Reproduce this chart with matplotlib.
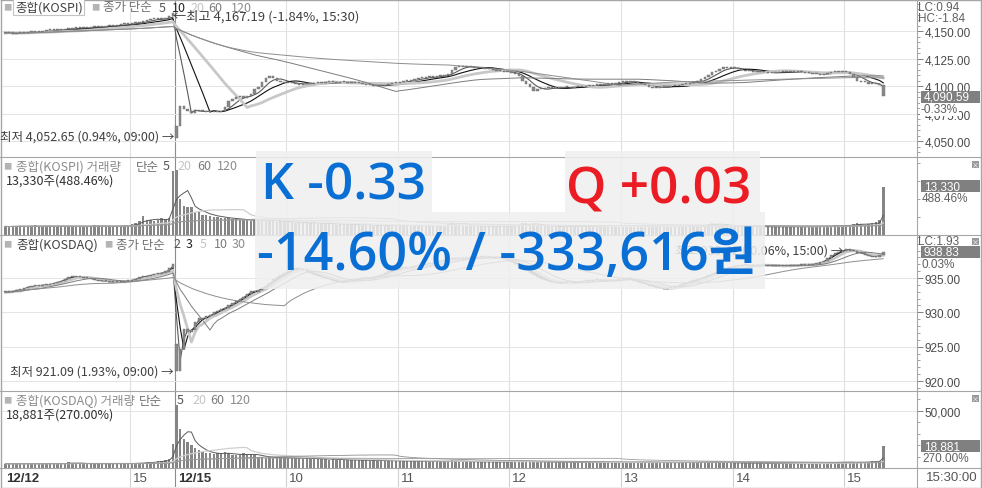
import matplotlib
matplotlib.use("Agg")
import matplotlib.pyplot as plt
from matplotlib.patches import Rectangle
from matplotlib.ticker import MultipleLocator
import numpy as np
import pandas as pd

plt.rcParams['font.family'] = ['Noto Sans CJK KR', 'DejaVu Sans']

# ---- values (2-minute bars, 12/12 tail + 12/15 session) ----
kospi_open_1212 = 4148.5
kospi_close_1212 = [
    4148.0, 4149.0, 4147.0, 4148.0, 4148.5, 4148.5, 4149.0, 4149.5, 4149.0, 4149.5,
    4150.0, 4150.5, 4150.5, 4151.0, 4151.5, 4151.0, 4152.0, 4152.0, 4152.5, 4152.5,
    4153.0, 4152.5, 4153.0, 4153.5, 4153.5, 4154.0, 4154.0, 4154.5, 4155.0, 4155.0,
    4155.5, 4156.0, 4156.0, 4156.5, 4157.0, 4157.5, 4158.0, 4159.5, 4160.0, 4160.5,
    4161.0, 4161.0, 4160.5, 4162.0, 4163.5, 4166.5]
kospi_open_1215 = 4053.0
kospi_close_1215 = [
    4063.6, 4081.8, 4079.5, 4077.0, 4075.5, 4077.0, 4078.0, 4077.5, 4076.5, 4077.0,
    4076.0, 4076.5, 4077.5, 4081.0, 4086.0, 4088.5, 4090.0, 4091.0, 4089.5, 4090.5,
    4093.0, 4097.0, 4099.5, 4103.5, 4107.5, 4109.0, 4107.0, 4104.5, 4104.0, 4103.0,
    4103.5, 4102.5, 4101.5, 4101.0, 4101.5, 4102.0, 4101.5, 4102.5, 4103.0, 4102.5,
    4103.5, 4104.0, 4103.5, 4103.0, 4104.0, 4103.5, 4103.0, 4103.5, 4102.5, 4102.5,
    4101.5, 4101.0, 4100.5, 4100.0, 4100.5, 4100.0, 4101.0, 4102.0, 4102.5, 4103.0,
    4103.5, 4104.5, 4105.5, 4105.0, 4106.5, 4107.5, 4107.0, 4108.0, 4108.5, 4108.0,
    4109.0, 4109.5, 4110.0, 4111.0, 4114.5, 4117.0, 4118.5, 4117.5, 4117.0, 4117.5,
    4116.5, 4116.5, 4116.0, 4115.5, 4115.5, 4114.5, 4114.0, 4113.5, 4113.0, 4112.5,
    4112.0, 4110.5, 4109.0, 4105.0, 4101.5, 4099.0, 4095.5, 4097.0, 4097.5, 4098.0,
    4098.0, 4098.5, 4098.0, 4098.5, 4099.0, 4099.0, 4098.5, 4099.5, 4099.0, 4099.5,
    4100.0, 4100.0, 4100.5, 4101.0, 4100.5, 4101.5, 4102.0, 4101.5, 4103.0, 4103.5,
    4104.0, 4104.5, 4104.0, 4103.5, 4102.5, 4101.5, 4100.5, 4099.5, 4098.5, 4098.0,
    4099.0, 4099.0, 4099.5, 4100.0, 4100.0, 4101.0, 4102.0, 4102.0, 4103.0, 4103.5,
    4104.5, 4106.0, 4108.0, 4110.0, 4112.5, 4114.0, 4115.5, 4117.0, 4116.5, 4116.5,
    4116.0, 4115.5, 4114.5, 4114.0, 4113.5, 4112.5, 4113.0, 4112.5, 4112.5, 4112.0,
    4112.0, 4111.5, 4112.5, 4113.0, 4112.5, 4112.5, 4113.0, 4112.5, 4112.5, 4112.0,
    4111.5, 4111.0, 4110.5, 4110.0, 4111.0, 4112.0, 4112.5, 4113.5, 4113.0, 4112.5,
    4112.5, 4111.0, 4108.5, 4105.0, 4104.0, 4103.5, 4102.0, 4101.5, 4101.5, 4101.0,
    4090.59]

kosdaq_open_1212 = 933.0
kosdaq_close_1212 = [
    932.9, 933.0, 933.1, 933.3, 933.2, 933.6, 933.7, 933.8, 933.8, 933.9,
    934.0, 934.0, 934.1, 934.3, 934.4, 934.6, 934.9, 935.1, 935.1, 935.2,
    935.1, 935.0, 935.0, 934.9, 934.7, 934.6, 934.6, 934.5, 934.4, 934.4,
    934.5, 934.4, 934.5, 934.6, 934.7, 934.9, 935.1, 935.2, 935.3, 935.4,
    935.6, 935.6, 935.8, 935.9, 936.4, 937.0]
kosdaq_open_1215 = 925.4
kosdaq_close_1215 = [
    921.5, 924.7, 927.6, 927.2, 927.4, 928.6, 929.2, 929.0, 929.4, 929.6,
    930.0, 930.2, 930.5, 930.7, 931.0, 931.3, 931.6, 932.0, 932.3, 932.7,
    933.1, 933.0, 933.3, 933.6, 933.9, 934.3, 934.8, 935.2, 935.4, 935.7,
    936.0, 936.2, 936.5, 936.3, 936.2, 935.9, 935.7, 935.5, 935.3, 935.1,
    935.0, 934.8, 934.6, 934.5, 934.4, 934.4, 934.5, 934.6, 934.7, 934.8,
    934.8, 935.0, 934.9, 935.1, 935.3, 935.4, 935.7, 936.0, 936.1, 936.2,
    936.4, 936.5, 936.5, 936.6, 936.7, 936.8, 936.9, 937.0, 937.1, 937.2,
    937.3, 937.5, 937.6, 937.7, 937.8, 937.8, 937.9, 937.8, 937.9, 938.0,
    937.9, 938.0, 938.0, 938.1, 938.0, 937.9, 938.0, 937.9, 937.7, 937.6,
    937.3, 937.1, 936.8, 936.5, 936.1, 935.8, 935.5, 935.1, 934.9, 934.7,
    934.5, 934.4, 934.3, 934.3, 934.2, 934.4, 934.4, 934.3, 934.4, 934.5,
    934.6, 934.5, 934.7, 934.7, 934.6, 934.7, 934.6, 934.7, 934.6, 934.8,
    934.9, 935.0, 934.9, 934.6, 934.4, 934.3, 934.1, 933.9, 933.8, 933.6,
    933.5, 933.4, 933.5, 933.6, 933.8, 933.9, 934.1, 934.3, 934.5, 934.6,
    934.8, 935.0, 935.2, 935.4, 935.6, 935.9, 936.1, 936.3, 936.5, 936.6,
    936.7, 936.8, 936.9, 936.9, 936.8, 936.9, 936.8, 936.9, 936.9, 936.8,
    936.8, 936.7, 936.8, 936.7, 936.8, 936.9, 936.8, 936.9, 936.9, 937.0,
    936.9, 937.0, 937.1, 937.3, 937.5, 937.9, 938.3, 938.6, 938.8, 939.0,
    939.2, 939.0, 938.9, 938.7, 938.6, 938.4, 938.2, 938.1, 938.1, 938.3,
    938.83]

kospi_vol_1212 = [
    2400, 2300, 2500, 2400, 2600, 2300, 2400, 2500, 2700, 2400,
    2300, 2500, 2600, 2400, 2500, 2300, 2400, 2600, 2500, 2400,
    2300, 2500, 2400, 2600, 2700, 2500, 2400, 2300, 2500, 2600,
    2400, 2500, 2700, 2600, 3100, 3300, 3900, 5200, 4300, 4100,
    4000, 4300, 4600, 4400, 4700, 17700]
kospi_vol_1215 = [
    18200, 10000, 8000, 7900, 7700, 6500, 6300, 5700, 5600, 5400,
    5100, 4900, 4800, 4600, 4700, 4500, 4400, 4300, 4200, 4100,
    4000, 4200, 4100, 4300, 3900, 4000, 3800, 3700, 3900, 3600,
    3700, 3500, 3400, 3600, 3300, 3400, 3200, 3500, 3100, 3300,
    3200, 3000, 3100, 2900, 3000, 3100, 2800, 2900, 3000, 2800,
    2700, 2900, 2800, 2600, 2700, 2800, 2600, 2700, 2900, 2600,
    2600, 2700, 2500, 2600, 2800, 2700, 2500, 2600, 2700, 2500,
    2600, 2800, 2700, 3100, 3600, 3400, 3000, 2700, 2600, 2500,
    2600, 2400, 2500, 2600, 2400, 2500, 2400, 2600, 2500, 2400,
    2500, 2700, 2900, 3300, 3200, 3000, 3100, 2800, 2600, 2500,
    2400, 2500, 2300, 2400, 2500, 2300, 2400, 2300, 2500, 2400,
    2300, 2400, 2500, 2300, 2400, 2300, 2400, 2500, 2400, 2300,
    2400, 2500, 2300, 2400, 2600, 2500, 2400, 2500, 2300, 2400,
    2300, 2400, 2300, 2500, 2400, 2300, 2400, 2500, 2400, 2500,
    2600, 2800, 2900, 3000, 3200, 3100, 2900, 2700, 2600, 2500,
    2400, 2500, 2400, 2300, 2400, 2300, 2400, 2300, 2200, 2400,
    2300, 2200, 2300, 2400, 2300, 2200, 2300, 2400, 2300, 2200,
    2300, 2400, 2300, 2400, 2500, 2400, 2600, 2700, 2500, 2600,
    2800, 2700, 3000, 3300, 3100, 2900, 3000, 3200, 3600, 4300,
    13330]

kosdaq_vol_1212 = [
    3800, 3600, 3700, 3900, 3600, 3800, 3700, 4000, 3600, 3800,
    3700, 3900, 3800, 3600, 4100, 3800, 3700, 5400, 4200, 3900,
    3800, 3700, 3900, 3600, 3800, 3700, 3600, 3800, 3700, 3900,
    3800, 3600, 3900, 3700, 4400, 4200, 4600, 4300, 4800, 5200,
    5600, 6300, 6000, 6800, 8200, 21000]
kosdaq_vol_1215 = [
    54600, 33700, 25500, 22700, 20000, 17300, 15500, 13800, 12700, 12700,
    12500, 12700, 12400, 13600, 12700, 11000, 10900, 11200, 12700, 12500,
    11800, 10900, 10000, 9400, 9100, 9300, 8900, 8700, 9100, 8600,
    8800, 8500, 8300, 8600, 8200, 8400, 8000, 8300, 7900, 8100,
    7600, 7300, 7500, 7100, 7300, 6900, 7100, 6800, 7000, 6700,
    6600, 6800, 6400, 6700, 6300, 6500, 6200, 6600, 6400, 6100,
    6000, 6300, 5800, 6100, 5700, 5900, 6400, 5800, 5600, 6000,
    5700, 5500, 5900, 6300, 6800, 5900, 5600, 5400, 5700, 5300,
    5500, 5200, 5400, 5600, 5300, 5100, 5400, 5200, 5500, 5800,
    5600, 5900, 6200, 6000, 5700, 5400, 5600, 5300, 5100, 5200,
    5000, 5200, 4900, 5100, 4800, 5000, 4700, 4900, 5100, 4800,
    4700, 4900, 4600, 4800, 4700, 4500, 4800, 4600, 4700, 4900,
    4800, 4600, 4900, 5100, 5300, 5000, 4800, 5000, 4700, 4900,
    4600, 4800, 4500, 4700, 4900, 4600, 4800, 5000, 4700, 4900,
    5100, 5400, 5200, 5600, 5300, 5100, 4900, 4700, 4600, 4500,
    4400, 4300, 4200, 4300, 4100, 4200, 4000, 4100, 3900, 4000,
    3900, 3800, 4000, 3900, 3700, 3800, 3900, 3700, 3800, 3900,
    3700, 3800, 3900, 4100, 4400, 4700, 5000, 5300, 5100, 4800,
    5200, 5000, 4700, 4900, 5300, 5100, 5600, 5800, 6200, 6400,
    18881]

time_labels = ["12/12", "15", "12/15", "10", "11", "12", "13", "14", "15"]
time_bars = [0, 34, 46, 76, 106, 136, 166, 196, 226]

kospi_ma = [5, 10, 20, 60, 120]
kosdaq_ma = [2, 3, 5, 10, 30]
vol_ma = [5, 20, 60, 120]
ma_colors = ['#5a5a5a', '#111111', '#c8c8c8', '#7c7c7c', '#8e8e8e']
ma_widths = [0.8, 0.8, 2.0, 0.7, 0.7]
vol_colors = ['#5a5a5a', '#cfcfcf', '#8e8e8e', '#9e9e9e']
vol_widths = [0.7, 0.9, 0.6, 0.6]

# ---- layout in pixels ----
W, H = 982, 489
L, R = 2, 917
bar_px, first_px = 3.72, 5.4
p_left = (L - first_px) / bar_px
p_right = (R - first_px) / bar_px
n1 = len(kospi_close_1212)
tick_font = 'Liberation Sans'

fig = plt.figure(figsize=(W / 100, H / 100), dpi=100)
fig.patch.set_facecolor('white')


def panel(y0, y1):
    ax = fig.add_axes([L / W, 1 - y1 / H, (R - L) / W, (y1 - y0) / H])
    ax.set_xlim(p_left, p_right)
    for s in ax.spines.values():
        s.set_visible(False)
    ax.tick_params(axis='x', bottom=False, labelbottom=False)
    ax.yaxis.tick_right()
    ax.tick_params(axis='y', which='major', length=4, width=0.7, color='#808080',
                   labelsize=8.5, labelcolor='#4a4a4a', pad=1.5)
    ax.tick_params(axis='y', which='minor', length=2, width=0.6, color='#909090')
    for b in time_bars[1:]:
        c = '#8c8c8c' if b == n1 else '#e0e0e0'
        ax.axvline(b - 0.5, color=c, lw=0.8, zorder=0.5)
    return ax


def candles(ax, o_a, c_a, o_b, c_b, periods, minh):
    close = np.array(c_a + c_b)
    x = np.arange(len(close))
    opens = np.r_[close[0], close[:-1]]
    opens[0] = o_a
    opens[len(c_a)] = o_b
    lo = np.minimum(opens, close)
    hgt = np.maximum(np.abs(close - opens), minh)
    s = pd.Series(close)
    for n, c, lw in zip(periods, ma_colors, ma_widths):
        ax.plot(x, s.rolling(n, min_periods=1).mean(), color=c, lw=lw, zorder=2)
    ax.bar(x, hgt, bottom=lo, width=0.65, color='#8a8a8a', edgecolor='#6a6a6a',
           linewidth=0.3, zorder=3)


def volumes(ax, v_a, v_b):
    vol = np.array(v_a + v_b, dtype=float)
    x = np.arange(len(vol))
    ax.bar(x, vol, width=0.65, color='#858585', linewidth=0, zorder=2)
    s = pd.Series(vol)
    for n, c, lw in zip(vol_ma, vol_colors, vol_widths):
        ax.plot(x, s.rolling(n, min_periods=1).mean(), color=c, lw=lw, zorder=3)


# KOSPI price
ax1 = panel(1, 158)
candles(ax1, kospi_open_1212, kospi_close_1212, kospi_open_1215, kospi_close_1215,
        kospi_ma, 0.9)
ax1.set_ylim(4035.5, 4178.2)
k_ticks = [4050, 4075, 4100, 4125, 4150]
ax1.set_yticks(k_ticks)
ax1.set_yticklabels([f"{v:,.2f}" for v in k_ticks], fontfamily=tick_font)
ax1.yaxis.set_minor_locator(MultipleLocator(5))
ax1.grid(axis='y', which='major', color='#e4e4e4', lw=0.7, zorder=0)

# KOSPI volume
ax2 = panel(158, 236)
volumes(ax2, kospi_vol_1212, kospi_vol_1215)
ax2.set_ylim(0, 21700)
ax2.set_yticks([])
ax2.yaxis.set_minor_locator(MultipleLocator(5000))

# KOSDAQ price
ax3 = panel(236, 392)
candles(ax3, kosdaq_open_1212, kosdaq_close_1212, kosdaq_open_1215, kosdaq_close_1215,
        kosdaq_ma, 0.15)
ax3.set_ylim(918.55, 941.26)
q_ticks = [920, 925, 930, 935]
ax3.set_yticks(q_ticks)
ax3.set_yticklabels([f"{v:,.2f}" for v in q_ticks], fontfamily=tick_font)
ax3.yaxis.set_minor_locator(MultipleLocator(1))
ax3.grid(axis='y', which='major', color='#e4e4e4', lw=0.7, zorder=0)

# KOSDAQ volume
ax4 = panel(392, 469)
volumes(ax4, kosdaq_vol_1212, kosdaq_vol_1215)
ax4.set_ylim(0, 67000)
ax4.set_yticks([50000])
ax4.set_yticklabels(["50,000"], fontfamily=tick_font)
ax4.yaxis.set_minor_locator(MultipleLocator(10000))
ax4.grid(axis='y', which='major', color='#e4e4e4', lw=0.7, zorder=0)

# time axis row
axx = fig.add_axes([L / W, 1 - 488 / H, (R - L) / W, (488 - 469) / H])
axx.set_xlim(p_left, p_right)
axx.set_ylim(0, 1)
axx.axis('off')
for b, lab in zip(time_bars, time_labels):
    bold = '/' in lab
    if b > 0:
        axx.axvline(b - 0.5, color='#8c8c8c' if b == n1 else '#d0d0d0', lw=0.8)
    axx.text(b - 0.5 + 0.8, 0.47, lab, fontsize=9.5, ha='left', va='center',
             color='#333333' if bold else '#555555',
             fontweight='bold' if bold else 'normal', fontfamily=tick_font)

# ---- overlay in pixel coordinates ----
ov = fig.add_axes([0, 0, 1, 1], zorder=10)
ov.set_xlim(0, W)
ov.set_ylim(H, 0)
ov.axis('off')
ov.patch.set_alpha(0)

frame = '#a6a6a6'
ov.plot([0.5, W - 0.5, W - 0.5, 0.5, 0.5], [0.5, 0.5, H - 0.5, H - 0.5, 0.5], color=frame, lw=1)
for yy in [158, 236, 392, 469]:
    ov.plot([0, W], [yy, yy], color=frame, lw=0.8)
ov.plot([R, R], [0, H], color=frame, lw=0.8)


def T(x, y, s, size=9, color='#404040', **kw):
    kw.setdefault('ha', 'left')
    kw.setdefault('va', 'center')
    ov.text(x, y, s, fontsize=size, color=color, **kw)


sq = '#b4b4b4'
# panel headers
T(3, 8, "■", 6, sq)
T(15, 8, "종합(KOSPI)", 9, '#404040',
  bbox=dict(boxstyle='square,pad=0.12', fc='white', ec='#c4c4c4', lw=0.8))
T(91, 8, "■", 6, sq)
T(103, 8, "종가 단순", 9, '#707070')
for xx, s, c in [(159, "5", '#555555'), (172, "10", '#222222'), (190, "20", '#c4c4c4'),
                 (208, "60", '#7c7c7c'), (231, "120", '#8c8c8c')]:
    T(xx, 8, s, 9, c)

T(3, 167, "■", 6, sq)
T(16, 167, "종합(KOSPI) 거래량", 9, '#8c8c8c')
T(136, 167, "단순", 9, '#707070')
for xx, s, c in [(163, "5", '#555555'), (177, "20", '#c4c4c4'), (197, "60", '#7c7c7c'),
                 (217, "120", '#8c8c8c')]:
    T(xx, 167, s, 9, c)
T(6, 181, "13,330주(488.46%)", 9, '#303030')

T(3, 245, "■", 6, sq)
T(16, 245, "종합(KOSDAQ)", 9, '#404040')
T(104, 245, "■", 6, sq)
T(116, 245, "종가 단순", 9, '#707070')
for xx, s, c in [(173, "2", '#555555'), (186, "3", '#222222'), (200, "5", '#c4c4c4'),
                 (214, "10", '#7c7c7c'), (232, "30", '#8c8c8c')]:
    T(xx, 245, s, 9, c)

T(3, 401, "■", 6, sq)
T(16, 401, "종합(KOSDAQ) 거래량", 9, '#8c8c8c')
T(139, 401, "단순", 9, '#707070')
for xx, s, c in [(177, "5", '#555555'), (192, "20", '#c4c4c4'), (210, "60", '#7c7c7c'),
                 (230, "120", '#8c8c8c')]:
    T(xx, 401, s, 9, c)
T(6, 415, "18,881주(270.00%)", 9, '#303030')

# high / low notes
T(173, 17, "←최고 4,167.19 (-1.84%, 15:30)", 9.5, '#404040')
T(174, 137, "최저 4,052.65 (0.94%, 09:00) →", 9, '#404040', ha='right')
T(174, 372, "최저 921.09 (1.93%, 09:00) →", 9, '#404040', ha='right')
T(843, 251, "최고 939.42 (-0.06%, 15:00) →", 9, '#404040', ha='right')

# right column
rc = '#606060'
T(918, 8, "LC:0.94", 8.5, rc, fontfamily=tick_font)
T(918, 19, "HC:-1.84", 8.5, rc, fontfamily=tick_font)
T(918, 242, "LC:1.93", 8.5, rc, fontfamily=tick_font)
T(921, 110, "-0.33%", 8.5, rc, fontfamily=tick_font,
  bbox=dict(boxstyle='square,pad=0.05', fc='white', ec='none'))
T(922, 199, "488.46%", 8.5, rc, fontfamily=tick_font)
T(922, 265, "0.03%", 8.5, rc, fontfamily=tick_font)
T(922, 459, "270.00%", 8.5, rc, fontfamily=tick_font)
for yc, s in [(98, "4,090.59"), (187, "13,330"), (253, "938.83"), (447, "18,881")]:
    ov.add_patch(Rectangle((921, yc - 6), 59, 12, fc='#808080', ec='none', zorder=4))
    T(924, yc, s, 8.5, 'white', fontfamily=tick_font, zorder=5)
for yc in [165, 242, 399]:
    ov.add_patch(Rectangle((972, yc - 3.5), 7, 7, fc='#9a9a9a', ec='none', zorder=4))
    T(975.5, yc, "×", 5, 'white', ha='center', zorder=5)
T(926, 478, "15:30:00", 9.5, '#555555', fontfamily=tick_font)

# summary overlay
box_c = '#efefef'
for (x0, y0, w, h) in [(256, 152, 176, 61), (565, 152, 195, 61), (255, 213, 510, 77)]:
    ov.add_patch(Rectangle((x0, y0), w, h, fc=box_c, ec='none', alpha=0.85, zorder=6))
big = ['Open Sans', 'Noto Sans CJK KR']
blue, red = '#0a6fd4', '#ec1c24'
ov.text(261, 200, "K -0.33", fontsize=37, color=blue, family=big, fontweight='semibold',
        ha='left', va='baseline', zorder=7)
ov.text(566, 203, "Q +0.03", fontsize=37, color=red, family=big, fontweight='semibold',
        ha='left', va='baseline', zorder=7)
ov.text(257, 270, "-14.60% / -333,616원", fontsize=37.5, color=blue, family=big,
        fontweight='semibold', ha='left', va='baseline', zorder=7)

fig.savefig("out.png", dpi=100)
